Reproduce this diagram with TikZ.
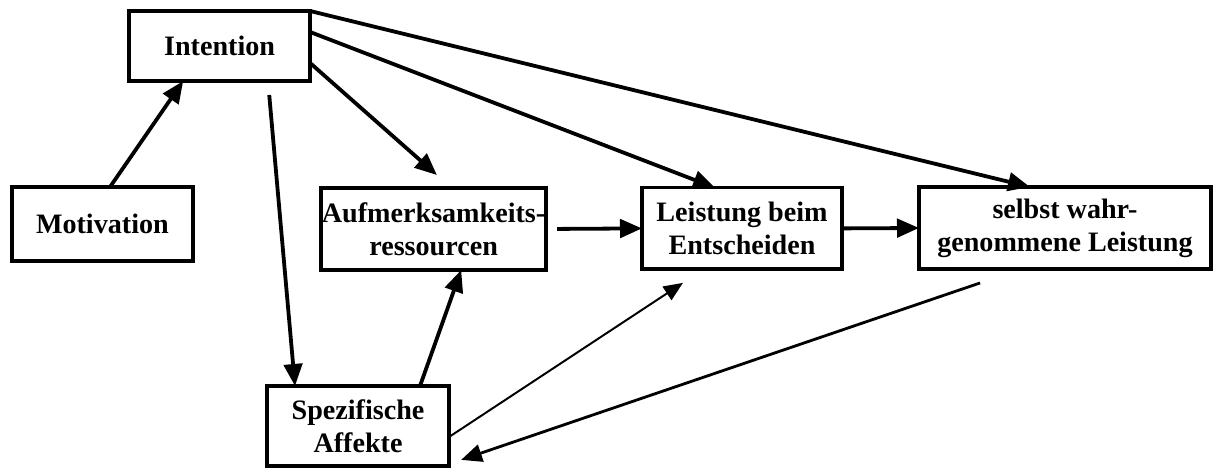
\documentclass[tikz,border=0pt]{standalone}
\usepackage{fontspec}
\setmainfont{Liberation Serif}
\usepackage{tikz}
\usetikzlibrary{arrows.meta, positioning, calc}
\tikzset{
    box/.style={rectangle, draw, line width=2.3pt, inner sep=0pt, outer sep=0pt, align=center,
        font=\fontsize{20}{23.5}\selectfont\bfseries},
    arr/.style={-{Triangle[length=0.55cm, width=0.46cm]}, line width=2.7pt},
    thinarr/.style={-{Triangle[length=0.48cm, width=0.4cm]}, line width=1.4pt},
    midarr/.style={-{Triangle[length=0.52cm, width=0.44cm]}, line width=2pt},
}
\begin{document}
\begin{tikzpicture}

\useasboundingbox (0, 0) rectangle (30.4, -11.7);

% Boxes
\node[box, minimum width=4.525cm, minimum height=1.75cm] (int) at (5.49, -1.15) {Intention};
\node[box, minimum width=4.525cm, minimum height=1.85cm] (mot) at (2.56, -5.6) {Motivation};
\node[box, minimum width=5.625cm, minimum height=2.05cm] (auf) at (10.84, -5.725) {Aufmerksamkeits-\\ressourcen};
\node[box, minimum width=5cm, minimum height=2.03cm] (lei) at (18.55, -5.71) {Leistung beim\\Entscheiden};
\node[box, minimum width=7.3cm, minimum height=2.05cm] (sel) at (26.625, -5.7) {selbst wahr-\\genommene Leistung};
\node[box, minimum width=4.55cm, minimum height=2cm] (spe) at (8.95, -10.65) {Spezifische\\Affekte};

% Arrows
\draw[arr] ([xshift=0.19cm]mot.north) -- ([xshift=-0.91cm]int.south);
\draw[arr, shorten <=0.35cm] ([xshift=1.21cm]int.south) -- ([xshift=-1.575cm]spe.north);
\draw[arr, shorten >=0.49cm] ([yshift=-0.425cm]int.east) -- ([xshift=0.45cm]auf.north);
\draw[arr] ([yshift=0.35cm]int.east) -- ([xshift=-0.675cm]lei.north);
\draw[arr] (int.north east) -- ([xshift=-0.875cm]sel.north);
\draw[arr, shorten <=0.275cm] (auf.east) -- (lei.west);
\draw[arr] (lei.east) -- (sel.west);
\draw[arr] ([xshift=1.55cm]spe.north) -- ([xshift=0.69cm]auf.south);
\draw[thinarr, shorten >=0.63cm] ([yshift=-0.275cm]spe.east) -- ([xshift=-0.95cm]lei.south);
\draw[midarr, shorten <=1.08cm, shorten >=0.32cm] ([xshift=-1.1cm]sel.south) -- ([yshift=-0.95cm]spe.east);

\end{tikzpicture}
\end{document}
